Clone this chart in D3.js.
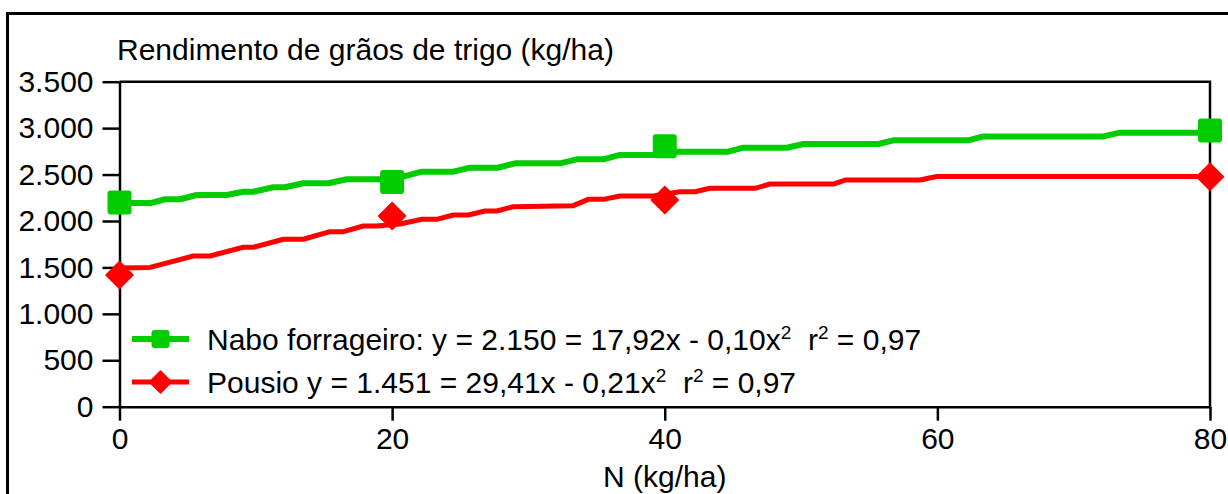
<!DOCTYPE html>
<html>
<head>
<meta charset="utf-8">
<script src="https://cdn.jsdelivr.net/npm/d3@7"></script>
<style>
  html, body { margin: 0; padding: 0; background: #fff; }
  svg { display: block; }
  text { font-family: "Liberation Sans", Arial, sans-serif; fill: #000; }
</style>
</head>
<body>
<svg id="chart" width="1228" height="494"></svg>
<script>
// ---- data ----
const nitrogen = [0, 20, 40, 80];
const naboObs = [2200, 2420, 2805, 2975];
const pousioObs = [1418, 2054, 2226, 2477];

// fitted curves as drawn (vertices)
const naboFit = [[0,2194],[2.36,2194],[3.34,2234],[4.44,2234],[5.66,2280],[7.86,2280],[9.08,2315],[9.82,2315],
  [11.28,2363],[12.14,2363],[13.48,2406],[15.32,2406],[16.67,2449],[20.0,2449],[20.82,2477],[22.17,2531],
  [24.49,2531],[25.71,2574],[27.79,2574],[29.02,2621],[32.32,2621],[33.54,2664],[35.49,2664],[36.72,2711],
  [39.41,2711],[40.88,2746],[44.66,2746],[45.76,2789],[48.95,2789],[50.17,2829],[55.67,2829],[56.77,2869],
  [62.27,2869],[63.37,2911],[72.17,2911],[73.40,2951],[80,2951]];
const pousioFit = [[0,1495],[2.24,1500],[5.41,1623],[6.64,1623],[9.08,1717],[9.82,1717],[12.02,1803],[13.48,1803],
  [15.44,1885],[16.42,1885],[17.89,1946],[18.87,1946],[20.58,1967],[22.17,2018],[23.27,2018],[24.49,2064],
  [25.59,2064],[26.81,2108],[27.67,2108],[28.89,2154],[33.29,2165],[34.39,2233],[35.49,2233],[36.72,2269],
  [39.16,2269],[41.12,2315],[42.22,2315],[43.31,2352],[46.62,2352],[47.72,2398],[52.37,2398],[53.23,2441],
  [58.73,2441],[59.95,2479],[80,2479]];

const xTicks = [0, 20, 40, 60, 80];
const yTicks = [0, 500, 1000, 1500, 2000, 2500, 3000, 3500];
const seriesNames = ["Nabo forrageiro", "Pousio"];
const legendEq = [
  ["Nabo forrageiro: y = 2.150 = 17,92x - 0,10x", "2", "  r", "2", " = 0,97"],
  ["Pousio y = 1.451 = 29,41x - 0,21x", "2", "  r", "2", " = 0,97"]
];
const titleText = "Rendimento de grãos de trigo (kg/ha)";
const xTitle = "N (kg/ha)";

// ---- drawing ----
const svg = d3.select("#chart");
const FS = 30;
const green = "#00cc00", red = "#ff0000";

const x = d3.scaleLinear().domain([0, 80]).range([119.5, 1210]);
const y = d3.scaleLinear().domain([0, 3500]).range([406.7, 81.7]);

const ptBR = d3.formatLocale({decimal: ",", thousands: ".", grouping: [3], currency: ["R$", ""]});
const fmt = ptBR.format(",d");

// outer border
svg.append("rect").attr("x", 7.5).attr("y", 13.5).attr("width", 1260).attr("height", 520)
  .attr("fill", "none").attr("stroke", "#000").attr("stroke-width", 3);

// title
svg.append("text").attr("x", 117).attr("y", 60).attr("font-size", FS).text(titleText);

// frame (top / right)
svg.append("path")
  .attr("d", `M${x(0)},${y(3500)}H${x(80)}V${y(0)}`)
  .attr("fill", "none").attr("stroke", "#000").attr("stroke-width", 2.5);

// axes
const gy = svg.append("g").attr("transform", `translate(${x(0)},0)`)
  .call(d3.axisLeft(y).tickValues(yTicks).tickFormat(fmt).tickSize(17).tickSizeOuter(0).tickPadding(9));
const gx = svg.append("g").attr("transform", `translate(0,${y(0)})`)
  .call(d3.axisBottom(x).tickValues(xTicks).tickFormat(d3.format("d")).tickSize(14).tickSizeOuter(0).tickPadding(7));
[gy, gx].forEach(g => {
  g.selectAll("path,line").attr("stroke", "#000").attr("stroke-width", 2.5);
  g.selectAll("text").attr("font-size", FS).attr("font-family", '"Liberation Sans", Arial, sans-serif').attr("fill", "#000");
});

// x title
svg.append("text").attr("x", x(40)).attr("y", 487).attr("text-anchor", "middle").attr("font-size", FS).text(xTitle);

// lines
const line = d3.line().x(d => x(d[0])).y(d => y(d[1]));
svg.append("path").datum(naboFit).attr("d", line).attr("fill", "none")
  .attr("stroke", green).attr("stroke-width", 6).attr("stroke-linejoin", "round");
svg.append("path").datum(pousioFit).attr("d", line).attr("fill", "none")
  .attr("stroke", red).attr("stroke-width", 5).attr("stroke-linejoin", "round");

// markers
function square(g, cx, cy, s, col) {
  g.append("rect").attr("x", cx - s / 2).attr("y", cy - s / 2).attr("width", s).attr("height", s)
    .attr("rx", 3).attr("fill", col);
}
function diamond(g, cx, cy, r, col) {
  g.append("path").attr("d", `M${cx},${cy - r}L${cx + r},${cy}L${cx},${cy + r}L${cx - r},${cy}Z`)
    .attr("fill", col).attr("stroke", col).attr("stroke-width", 1.5).attr("stroke-linejoin", "round");
}
const mk = svg.append("g");
nitrogen.forEach((n, i) => square(mk, x(n), y(naboObs[i]), 24, green));
nitrogen.forEach((n, i) => diamond(mk, x(n), y(pousioObs[i]), 13.5, red));

// legend
const lg = svg.append("g");
const legY = [339, 382];
const cols = [green, red];
legY.forEach((ly, i) => {
  lg.append("line").attr("x1", 132).attr("x2", 189).attr("y1", ly).attr("y2", ly)
    .attr("stroke", cols[i]).attr("stroke-width", i === 0 ? 6 : 5);
  if (i === 0) square(lg, 160.5, ly, 18, cols[i]); else diamond(lg, 160.5, ly, 11, cols[i]);
  const t = lg.append("text").attr("x", 207).attr("y", ly + 10.5).attr("font-size", FS)
    .style("white-space", "pre").attr("xml:space", "preserve");
  const parts = legendEq[i];
  t.append("tspan").text(parts[0]);
  t.append("tspan").attr("font-size", 19).attr("dy", -11).text(parts[1]);
  t.append("tspan").attr("dy", 11).text(parts[2]);
  t.append("tspan").attr("font-size", 19).attr("dy", -11).text(parts[3]);
  t.append("tspan").attr("dy", 11).text(parts[4]);
});
</script>
</body>
</html>
